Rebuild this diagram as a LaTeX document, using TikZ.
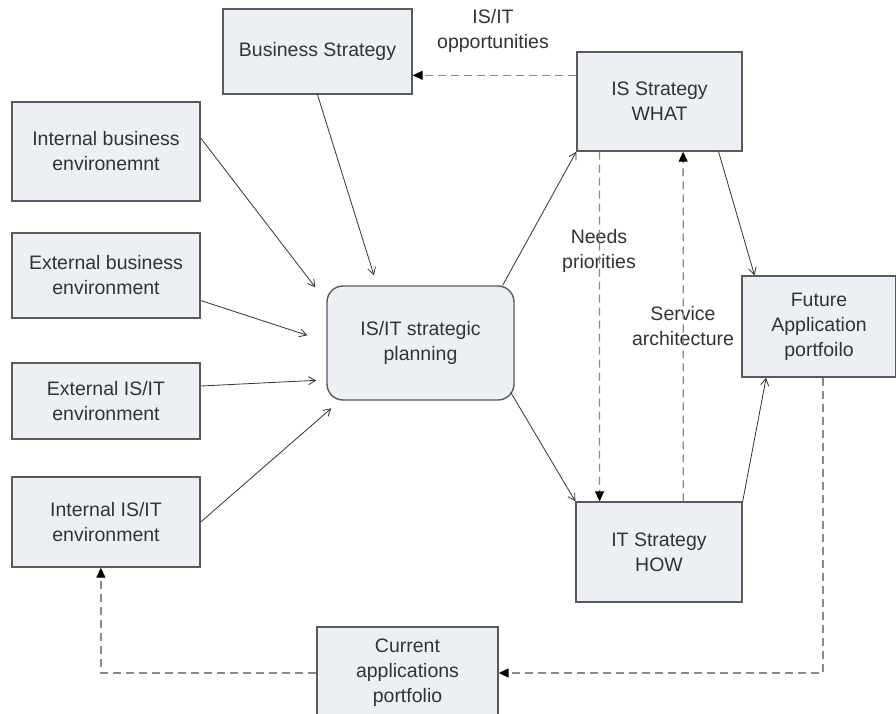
\documentclass[tikz,border=0pt]{standalone}
\usepackage{fontspec}
\setmainfont{Liberation Sans}
\usetikzlibrary{arrows.meta,calc}
\definecolor{boxfill}{HTML}{ECEFF4}
\definecolor{boxline}{HTML}{5A5A5A}
\definecolor{txt}{HTML}{333333}
\definecolor{dashc}{HTML}{8A8A8A}
\begin{document}
\begin{tikzpicture}[x=1pt,y=-1pt,
  box/.style={draw=boxline,line width=1.4pt,fill=boxfill,inner sep=0pt,align=center,text=txt,
    font=\fontsize{19.5}{25}\selectfont},
  lbl/.style={inner sep=0pt,align=center,text=txt,font=\fontsize{19.5}{25}\selectfont},
  sol/.style={draw=black!80,line width=0.8pt,-{Straight Barb[length=7pt,width=8pt]}},
  dsh/.style={draw=dashc,line width=1.3pt,dash pattern=on 8pt off 5pt,-{Triangle[length=10pt,width=9pt,fill=black,color=black]}}]
\useasboundingbox (0,0) rectangle (896,713);
\fill[white] (0,0) rectangle (896,713);

\node[box,minimum width=189pt,minimum height=85pt] (bs) at (317.5,51.5) {Business Strategy};
\node[box,minimum width=188pt,minimum height=99pt] (ib) at (106,151.5) {Internal business\\environemnt};
\node[box,minimum width=188pt,minimum height=85pt] (eb) at (106,275.5) {External business\\environment};
\node[box,minimum width=188pt,minimum height=76pt] (ei) at (106,401) {External IS/IT\\environment};
\node[box,minimum width=188pt,minimum height=90pt] (ii) at (106,522) {Internal IS/IT\\environment};
\node[box,rounded corners=16pt,minimum width=187pt,minimum height=114pt] (plan) at (420.5,343) {IS/IT strategic\\planning};
\node[box,minimum width=165pt,minimum height=99pt] (iss) at (659.5,101.5) {IS Strategy\\WHAT};
\node[box,minimum width=154pt,minimum height=101pt] (fut) at (819,326.5) {Future\\Application\\portfoilo};
\node[box,minimum width=166pt,minimum height=100pt] (its) at (659,552) {IT Strategy\\HOW};
\node[box,minimum width=181pt,minimum height=92pt] (cur) at (407.5,673) {Current\\applications\\portfolio};

% labels
\node[lbl] (lopp) at (493,31) {IS/IT\\opportunities};
\node[lbl] (lneed) at (599,251) {Needs\\priorities};
\node[lbl,fill=white,inner sep=1pt] (lserv) at (683,326) {Service\\architecture};

% solid connectors into planning
\draw[sol] (bs.south) -- ($(plan.north west)!0.253!(plan.north east)+(0,-10)$);
\draw[sol] ([yshift=13.5pt]ib.east) -- ($(plan.north west)+(-11,2)$);
\draw[sol] ([yshift=-25pt]eb.east) -- ($(plan.north west)+(-19,50)$);
\draw[sol] ([yshift=15pt]ei.east) -- ($(plan.north west)+(-10,95)$);
\draw[sol] (ii.east) -- ($(plan.north west)+(5,123)$);

% planning to strategies
\draw[sol] ($(plan.north west)!0.936!(plan.north east)$) -- (iss.south west);
\draw[sol] ($(plan.north east)+(-4,107)$) -- (its.north west);

% strategies to future
\draw[sol] ($(iss.south west)!0.855!(iss.south east)$) -- ($(fut.north west)!0.085!(fut.north east)$);
\draw[sol] (its.north east) -- ($(fut.south west)!0.16!(fut.south east)$);

% dashed connectors
\draw[dsh] ($(iss.north west)+(0,24)$) -- ($(bs.north east)+(0,67)$);
\draw[dsh] ($(iss.south west)!0.139!(iss.south east)$) -- ($(its.north west)!0.145!(its.north east)$);
\draw[dsh] ($(its.north west)!0.645!(its.north east)$) -- ($(iss.south west)!0.642!(iss.south east)$);
\draw[dsh] ($(fut.south west)!0.526!(fut.south east)$) |- (cur.east);
\draw[dsh] (cur.west) -| ($(ii.south west)!0.473!(ii.south east)$);
\end{tikzpicture}
\end{document}
